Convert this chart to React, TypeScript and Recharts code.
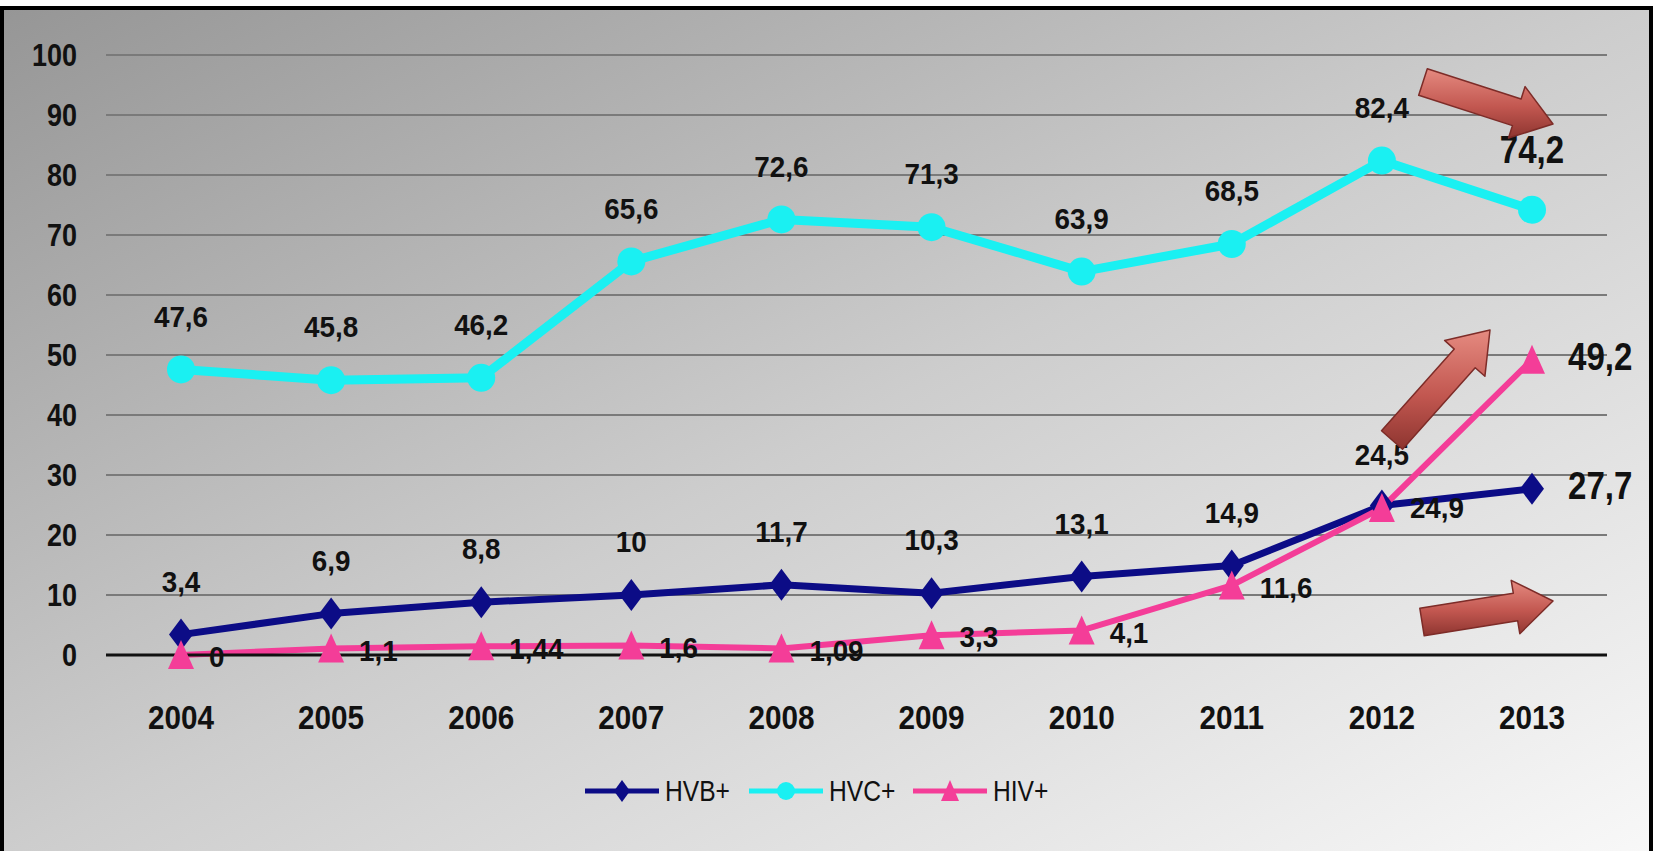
import React from 'react';
import { LineChart, Line, XAxis, YAxis, CartesianGrid } from 'recharts';

const years = ['2004', '2005', '2006', '2007', '2008', '2009', '2010', '2011', '2012', '2013'];
const hvbValues = [3.4, 6.9, 8.8, 10, 11.7, 10.3, 13.1, 14.9, 24.9, 27.7];
const hvcValues = [47.6, 45.8, 46.2, 65.6, 72.6, 71.3, 63.9, 68.5, 82.4, 74.2];
const hivValues = [0, 1.1, 1.44, 1.6, 1.09, 3.3, 4.1, 11.6, 24.5, 49.2];
const yTicks = [0, 10, 20, 30, 40, 50, 60, 70, 80, 90, 100];

// where each data label sits relative to its point
const hvbLabelPlace = ['top', 'top', 'top', 'top', 'top', 'top', 'top', 'top', 'right', 'rightBig'];
const hvcLabelPlace = ['top', 'top', 'top', 'top', 'top', 'top', 'top', 'top', 'top', 'topBig'];
const hivLabelPlace = ['right', 'right', 'right', 'right', 'right', 'right', 'right', 'right', 'top', 'rightBig'];

const data = years.map((year, i) => ({
  year,
  hvb: hvbValues[i],
  hvc: hvcValues[i],
  hiv: hivValues[i],
}));

const FONT = "'Liberation Sans', Arial, sans-serif";
const NAVY = '#0c0c86';
const CYAN = '#1af0f2';
const PINK = '#f43d98';

const fmt = (v: number) => String(v).replace('.', ',');

// condensed-looking bold text (the original uses a tall narrow face)
const NarrowText = ({
  x,
  y,
  anchor,
  size,
  squeeze,
  children,
}: {
  x: number;
  y: number;
  anchor: 'start' | 'middle' | 'end';
  size: number;
  squeeze: number;
  children: React.ReactNode;
}) => (
  <text
    transform={`translate(${x},${y}) scale(${squeeze},1)`}
    x={0}
    y={0}
    textAnchor={anchor}
    dominantBaseline="central"
    fontFamily={FONT}
    fontWeight={700}
    fontSize={size}
    fill="#111"
  >
    {children}
  </text>
);

const XTick = (props: any) => {
  const { x, y, payload } = props;
  return (
    <NarrowText x={x} y={y + 14} anchor="middle" size={33} squeeze={0.9}>
      {payload.value}
    </NarrowText>
  );
};

const YTick = (props: any) => {
  const { x, y, payload } = props;
  return (
    <NarrowText x={x} y={y} anchor="end" size={31} squeeze={0.87}>
      {payload.value}
    </NarrowText>
  );
};

const renderMarker = (shape: string, cx: number, cy: number, color: string) => {
  if (shape === 'diamond') {
    return (
      <polygon
        points={`${cx},${cy - 16} ${cx + 12},${cy} ${cx},${cy + 16} ${cx - 12},${cy}`}
        fill={color}
      />
    );
  }
  if (shape === 'triangle') {
    return (
      <polygon
        points={`${cx},${cy - 15} ${cx + 13},${cy + 14} ${cx - 13},${cy + 14}`}
        fill={color}
      />
    );
  }
  return <circle cx={cx} cy={cy} r={14} fill={color} />;
};

const renderLabel = (cx: number, cy: number, text: string, place: string) => {
  const big = place.endsWith('Big');
  const size = big ? 38 : 29;
  const squeeze = big ? 0.87 : 0.96;
  if (place.startsWith('top')) {
    return (
      <NarrowText x={cx} y={cy - (big ? 60 : 53)} anchor="middle" size={size} squeeze={squeeze}>
        {text}
      </NarrowText>
    );
  }
  return (
    <NarrowText
      x={cx + (big ? 36 : 28)}
      y={cy + (big ? -3 : 2)}
      anchor="start"
      size={size}
      squeeze={squeeze}
    >
      {text}
    </NarrowText>
  );
};

const makeDot =
  (shape: string, color: string, values: number[], places: string[]) =>
  (props: any) => {
    const { cx, cy, index } = props;
    if (cx == null || cy == null) return <g key={`d-${index}`} />;
    return (
      <g key={`d-${shape}-${index}`}>
        {renderMarker(shape, cx, cy, color)}
        {renderLabel(cx, cy, fmt(values[index]), places[index])}
      </g>
    );
  };

// decorative 3D-ish arrows
const arrowPoly = (tail: number[], tip: number[], shaft: number, head: number, headLen: number) => {
  const dx = tip[0] - tail[0];
  const dy = tip[1] - tail[1];
  const len = Math.hypot(dx, dy);
  const ux = dx / len;
  const uy = dy / len;
  const nx = -uy;
  const ny = ux;
  const bx = tip[0] - ux * headLen;
  const by = tip[1] - uy * headLen;
  const p = (x: number, y: number) => `${x.toFixed(1)},${y.toFixed(1)}`;
  return [
    p(tail[0] + (nx * shaft) / 2, tail[1] + (ny * shaft) / 2),
    p(bx + (nx * shaft) / 2, by + (ny * shaft) / 2),
    p(bx + (nx * head) / 2, by + (ny * head) / 2),
    p(tip[0], tip[1]),
    p(bx - (nx * head) / 2, by - (ny * head) / 2),
    p(bx - (nx * shaft) / 2, by - (ny * shaft) / 2),
    p(tail[0] - (nx * shaft) / 2, tail[1] - (ny * shaft) / 2),
  ].join(' ');
};

const arrows = [
  { tail: [1423, 82], tip: [1553, 124] },
  { tail: [1392, 440], tip: [1490, 330] },
  { tail: [1422, 622], tip: [1553, 601] },
];

const legendItems = [
  { name: 'HVB+', color: NAVY, shape: 'diamond' },
  { name: 'HVC+', color: CYAN, shape: 'circle' },
  { name: 'HIV+', color: PINK, shape: 'triangle' },
];

const LegendIcon = ({ color, shape }: { color: string; shape: string }) => (
  <svg width={74} height={32}>
    <line x1={0} y1={16} x2={74} y2={16} stroke={color} strokeWidth={5} />
    {shape === 'diamond' && <polygon points="37,5 45,16 37,27 29,16" fill={color} />}
    {shape === 'circle' && <circle cx={37} cy={16} r={9} fill={color} />}
    {shape === 'triangle' && <polygon points="37,5 46,26 28,26" fill={color} />}
  </svg>
);

const App = () => {
  return (
    <div
      style={{
        position: 'absolute',
        left: 0,
        top: 0,
        width: 1661,
        height: 851,
        background: '#fff',
        overflow: 'hidden',
      }}
    >
      <div
        style={{
          position: 'absolute',
          left: 0,
          top: 6,
          width: 1653,
          height: 850,
          boxSizing: 'border-box',
          border: '4px solid #000',
          borderBottom: 'none',
          background: 'linear-gradient(to bottom right, #969696 0%, #cdcdcd 50%, #f8f8f8 100%)',
        }}
      />
      <div style={{ position: 'absolute', left: 0, top: 0 }}>
        <LineChart
          width={1661}
          height={851}
          data={data}
          margin={{ top: 55, right: 54, left: 26, bottom: 136 }}
        >
          <CartesianGrid horizontal vertical={false} stroke="#7a7a7a" strokeWidth={2} />
          <XAxis
            dataKey="year"
            height={60}
            interval={0}
            padding={{ left: 75, right: 75 }}
            axisLine={{ stroke: '#111', strokeWidth: 3 }}
            tickLine={false}
            tickMargin={43}
            tick={<XTick />}
          />
          <YAxis
            width={80}
            domain={[0, 100]}
            ticks={yTicks}
            interval={0}
            axisLine={false}
            tickLine={false}
            tickMargin={23}
            tick={<YTick />}
          />
          <Line
            type="linear"
            dataKey="hvb"
            stroke={NAVY}
            strokeWidth={7}
            strokeLinejoin="round"
            dot={makeDot('diamond', NAVY, hvbValues, hvbLabelPlace)}
            activeDot={false}
            isAnimationActive={false}
          />
          <Line
            type="linear"
            dataKey="hvc"
            stroke={CYAN}
            strokeWidth={9}
            strokeLinejoin="round"
            dot={makeDot('circle', CYAN, hvcValues, hvcLabelPlace)}
            activeDot={false}
            isAnimationActive={false}
          />
          <Line
            type="linear"
            dataKey="hiv"
            stroke={PINK}
            strokeWidth={6}
            strokeLinejoin="round"
            dot={makeDot('triangle', PINK, hivValues, hivLabelPlace)}
            activeDot={false}
            isAnimationActive={false}
          />
        </LineChart>
      </div>
      <svg
        width={1661}
        height={851}
        style={{ position: 'absolute', left: 0, top: 0, pointerEvents: 'none' }}
      >
        <defs>
          <linearGradient id="arrowFill" x1="0" y1="0" x2="0" y2="1">
            <stop offset="0%" stopColor="#e58a80" />
            <stop offset="55%" stopColor="#c25750" />
            <stop offset="100%" stopColor="#8e3530" />
          </linearGradient>
        </defs>
        {arrows.map((a, i) => (
          <polygon
            key={i}
            points={arrowPoly(a.tail, a.tip, 28, 54, 38)}
            fill="url(#arrowFill)"
            stroke="#7d2c28"
            strokeWidth={1.5}
            strokeLinejoin="round"
          />
        ))}
      </svg>
      <div
        style={{
          position: 'absolute',
          left: 585,
          top: 774,
          display: 'flex',
          alignItems: 'center',
          fontFamily: FONT,
          fontSize: 30,
          color: '#111',
        }}
      >
        {legendItems.map((item) => (
          <div key={item.name} style={{ display: 'flex', alignItems: 'center', marginRight: 22 }}>
            <LegendIcon color={item.color} shape={item.shape} />
            <span
              style={{
                marginLeft: 6,
                display: 'inline-block',
                transform: 'scaleX(0.82)',
                transformOrigin: 'left center',
                width: 62,
              }}
            >
              {item.name}
            </span>
          </div>
        ))}
      </div>
    </div>
  );
};

export default App;
